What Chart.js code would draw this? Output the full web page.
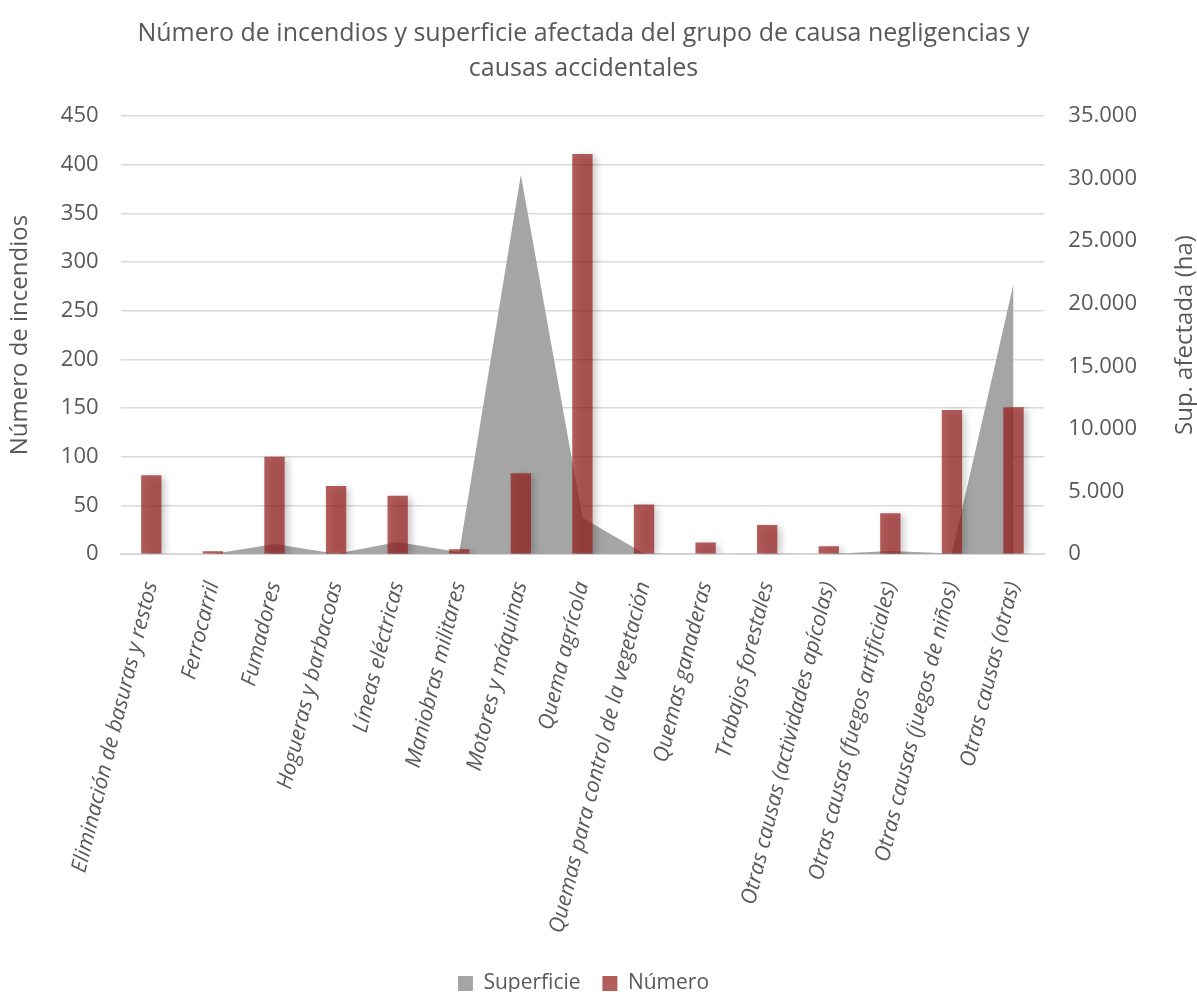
<!DOCTYPE html>
<html>
<head>
<meta charset="utf-8">
<script src="https://cdn.jsdelivr.net/npm/chart.js@4"></script>
<style>
  html, body { margin: 0; padding: 0; background: #fff; }
  #wrap { width: 1197px; height: 992px; }
</style>
</head>
<body>
<div id="wrap"><canvas id="chart"></canvas></div>
<script>
// categories
const causas = [
  "Eliminación de basuras y restos",
  "Ferrocarril",
  "Fumadores",
  "Hogueras y barbacoas",
  "Líneas eléctricas",
  "Maniobras militares",
  "Motores y máquinas",
  "Quema agrícola",
  "Quemas para control de la vegetación",
  "Quemas ganaderas",
  "Trabajos forestales",
  "Otras causas (actividades apícolas)",
  "Otras causas (fuegos artificiales)",
  "Otras causas (juegos de niños)",
  "Otras causas (otras)",
];
// series values
const numero = [81, 3, 100, 70, 60, 5, 83, 411, 51, 12, 30, 8, 42, 148, 151];
const superficie = [10, 20, 820, 40, 980, 150, 30300, 2900, 60, 20, 30, 20, 250, 60, 21600];

const textColor = "#595959";
const fontFamily = "'Open Sans', 'DejaVu Sans', sans-serif";
const rightTitle = "Sup. afectada (ha)";

// soft drop shadow like the office chart
const shadowPlugin = {
  id: "shadow",
  beforeDatasetDraw(chart) {
    const ctx = chart.ctx;
    ctx.save();
    ctx.shadowColor = "rgba(0,0,0,0.28)";
    ctx.shadowBlur = 7;
    ctx.shadowOffsetX = 4;
    ctx.shadowOffsetY = 2;
  },
  afterDatasetDraw(chart) {
    chart.ctx.restore();
  },
};

// right axis title reads bottom to top, like the left one
const rightTitlePlugin = {
  id: "rightTitle",
  afterDraw(chart) {
    const ctx = chart.ctx;
    const area = chart.chartArea;
    ctx.save();
    ctx.translate(chart.width - 12, (area.top + area.bottom) / 2);
    ctx.rotate(-Math.PI / 2);
    ctx.fillStyle = textColor;
    ctx.font = "24px " + fontFamily;
    ctx.textAlign = "center";
    ctx.textBaseline = "middle";
    ctx.fillText(rightTitle, 0, 0);
    ctx.restore();
  },
};

// push the legend row a bit lower, closer to the bottom edge
const legendShift = {
  id: "legendShift",
  afterLayout(chart) {
    chart.legend.top += 12;
    chart.legend.bottom += 12;
  },
};

const ctx = document.getElementById("chart").getContext("2d");
new Chart(ctx, {
  type: "bar",
  data: {
    labels: causas,
    datasets: [
      {
        type: "line",
        label: "Superficie",
        data: superficie,
        yAxisID: "y1",
        fill: "origin",
        backgroundColor: "#a5a5a5",
        borderColor: "#a5a5a5",
        borderWidth: 0,
        pointRadius: 0,
        tension: 0,
        order: 2,
      },
      {
        label: "Número",
        data: numero,
        yAxisID: "y",
        backgroundColor: "rgba(150, 30, 30, 0.72)",
        borderWidth: 0,
        barPercentage: 0.33,
        categoryPercentage: 1,
        order: 1,
      },
    ],
  },
  options: {
    responsive: true,
    maintainAspectRatio: false,
    animation: false,
    layout: { padding: { top: 2, left: 6, right: 36, bottom: 0 } },
    plugins: {
      title: {
        display: true,
        text: [
          "Número de incendios y superficie afectada del grupo de causa negligencias y",
          "causas accidentales",
        ],
        color: textColor,
        font: { family: fontFamily, size: 25, weight: "normal", lineHeight: 1.4 },
        padding: { top: 14, bottom: 30 },
      },
      legend: {
        position: "bottom",
        labels: {
          color: textColor,
          font: { family: fontFamily, size: 21 },
          boxWidth: 15,
          boxHeight: 15,
          padding: 0,
          sort: (a, b) => a.datasetIndex - b.datasetIndex,
          generateLabels: (chart) =>
            Chart.defaults.plugins.legend.labels
              .generateLabels(chart)
              .map((l) => (l.datasetIndex === 0 ? { ...l, text: l.text + "    " } : l)),
        },
      },
      tooltip: { enabled: false },
    },
    scales: {
      x: {
        grid: { display: false, drawTicks: false },
        border: { color: "#d9d9d9", width: 2 },
        ticks: {
          color: textColor,
          font: { family: fontFamily, size: 21.5, style: "italic" },
          minRotation: 76,
          maxRotation: 76,
          autoSkip: false,
          padding: 25,
        },
      },
      y: {
        position: "left",
        min: 0,
        max: 450,
        grid: { color: "#d9d9d9", lineWidth: 1.5, drawTicks: false },
        border: { display: false },
        ticks: {
          stepSize: 50,
          color: textColor,
          font: { family: fontFamily, size: 22 },
          padding: 22,
        },
        title: {
          display: true,
          text: "Número de incendios",
          color: textColor,
          font: { family: fontFamily, size: 24 },
          padding: { top: 0, bottom: 4 },
        },
      },
      y1: {
        position: "right",
        min: 0,
        max: 35000,
        grid: { display: false, drawTicks: false },
        border: { display: false },
        ticks: {
          stepSize: 5000,
          color: textColor,
          font: { family: fontFamily, size: 22 },
          padding: 24,
          callback: (v) => v.toLocaleString("de-DE"),
        },
      },
    },
  },
  plugins: [shadowPlugin, rightTitlePlugin, legendShift],
});
</script>
</body>
</html>
